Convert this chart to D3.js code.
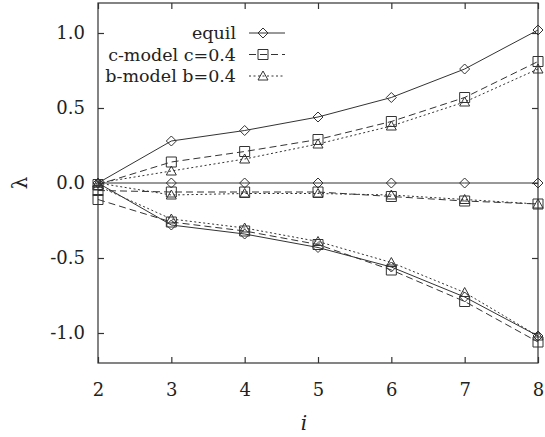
<!DOCTYPE html>
<html>
<head>
<meta charset="utf-8">
<script src="https://cdn.jsdelivr.net/npm/d3@7"></script>
<style>
  body { margin: 0; background: #fff; }
</style>
</head>
<body>
<div id="wrapper"></div>
<script>
// Data
const iValues = [2, 3, 4, 5, 6, 7, 8];
const xTicks = [2, 3, 4, 5, 6, 7, 8];
const yTicks = [-1.0, -0.5, 0.0, 0.5, 1.0];

const equilUpper = [0.0, 0.28, 0.35, 0.44, 0.57, 0.76, 1.02];
const equilMiddle = [0.0, 0.0, 0.0, 0.0, 0.0, 0.0, 0.0];
const equilLower = [0.0, -0.28, -0.34, -0.43, -0.56, -0.76, -1.02];

const cUpper = [-0.01, 0.14, 0.21, 0.29, 0.41, 0.57, 0.81];
const cMiddle = [-0.05, -0.06, -0.06, -0.06, -0.09, -0.12, -0.14];
const cLower = [-0.11, -0.26, -0.32, -0.41, -0.58, -0.79, -1.06];

const bUpper = [0.0, 0.08, 0.16, 0.26, 0.38, 0.54, 0.76];
const bMiddle = [0.0, -0.08, -0.07, -0.07, -0.08, -0.11, -0.14];
const bLower = [-0.02, -0.24, -0.30, -0.39, -0.53, -0.73, -1.02];

const seriesNames = ["equil", "c-model c=0.4", "b-model b=0.4"];

const series = [
  { name: seriesNames[0], branches: [equilUpper, equilMiddle, equilLower], dash: null, marker: "diamond" },
  { name: seriesNames[1], branches: [cUpper, cMiddle, cLower], dash: "7,4", marker: "square" },
  { name: seriesNames[2], branches: [bUpper, bMiddle, bLower], dash: "2,2.5", marker: "triangle" },
];

// Dimensions
const dimensions = {
  width: 545,
  height: 437,
  margins: { top: 3, right: 7, bottom: 74, left: 98 },
};
dimensions.boundedWidth = dimensions.width - dimensions.margins.left - dimensions.margins.right;
dimensions.boundedHeight = dimensions.height - dimensions.margins.top - dimensions.margins.bottom;

const serif = "DejaVu Serif";

const wrapper = d3.select("#wrapper").append("svg")
  .attr("width", dimensions.width)
  .attr("height", dimensions.height);

const bounds = wrapper.append("g")
  .attr("transform", `translate(${dimensions.margins.left},${dimensions.margins.top})`);

// Scales
const xScale = d3.scaleLinear().domain([2, 8]).range([0, dimensions.boundedWidth]);
const yScale = d3.scaleLinear().domain([-1.2, 1.2]).range([dimensions.boundedHeight, 0]);

const ink = "#333";

// Frame
bounds.append("rect")
  .attr("width", dimensions.boundedWidth)
  .attr("height", dimensions.boundedHeight)
  .attr("fill", "none")
  .attr("stroke", ink)
  .attr("stroke-width", 1.2);

// Axes (ticks pointing inward, mirrored)
const tickLen = 6;
const xAxis = bounds.append("g")
  .attr("transform", `translate(0,${dimensions.boundedHeight})`)
  .call(d3.axisBottom(xScale).tickValues(xTicks).tickSize(-tickLen).tickPadding(20).tickFormat((d) => d.toFixed(0)));
const xAxisTop = bounds.append("g")
  .call(d3.axisTop(xScale).tickValues(xTicks).tickSize(-tickLen).tickFormat(""));
const yAxis = bounds.append("g")
  .call(d3.axisLeft(yScale).tickValues(yTicks).tickSize(-tickLen).tickPadding(13).tickFormat((d) => d.toFixed(1)));
const yAxisRight = bounds.append("g")
  .attr("transform", `translate(${dimensions.boundedWidth},0)`)
  .call(d3.axisRight(yScale).tickValues(yTicks).tickSize(-tickLen).tickFormat(""));

[xAxis, xAxisTop, yAxis, yAxisRight].forEach((ax) => {
  ax.attr("font-family", serif).attr("font-size", 18);
  ax.select(".domain").remove();
  ax.selectAll(".tick line").attr("stroke", ink).attr("stroke-width", 1.2);
  ax.selectAll(".tick text").attr("fill", "#222");
});

// Axis labels
wrapper.append("text")
  .attr("x", dimensions.margins.left + dimensions.boundedWidth / 2 - 14)
  .attr("y", 430)
  .attr("text-anchor", "middle")
  .attr("fill", "#222")
  .attr("font-family", serif)
  .attr("font-size", 20)
  .attr("font-style", "italic")
  .text("i");

wrapper.append("text")
  .attr("transform", `translate(27,${dimensions.margins.top + yScale(0)}) rotate(-90)`)
  .attr("text-anchor", "middle")
  .attr("fill", "#222")
  .attr("font-family", serif)
  .attr("font-size", 20)
  .text("λ");

// Markers
const markerSize = 5;
function drawMarker(sel, type, cx, cy) {
  const s = markerSize;
  let d;
  if (type === "diamond") {
    d = `M${cx},${cy - s}L${cx + s},${cy}L${cx},${cy + s}L${cx - s},${cy}Z`;
  } else if (type === "square") {
    d = `M${cx - s},${cy - s}H${cx + s}V${cy + s}H${cx - s}Z`;
  } else {
    d = `M${cx},${cy - s}L${cx + s},${cy + s * 0.8}L${cx - s},${cy + s * 0.8}Z`;
  }
  sel.append("path")
    .attr("d", d)
    .attr("fill", "none")
    .attr("stroke", ink)
    .attr("stroke-width", 1);
}

// Lines
const lineGenerator = d3.line()
  .x((d, i) => xScale(iValues[i]))
  .y((d) => yScale(d));

const linesGroup = bounds.append("g");
series.forEach((s) => {
  s.branches.forEach((branch) => {
    linesGroup.append("path")
      .attr("d", lineGenerator(branch))
      .attr("fill", "none")
      .attr("stroke", ink)
      .attr("stroke-width", 1)
      .attr("stroke-dasharray", s.dash);
    branch.forEach((v, i) => drawMarker(linesGroup, s.marker, xScale(iValues[i]), yScale(v)));
  });
});

// Legend
const legend = wrapper.append("g");
series.forEach((s, k) => {
  const y = 33 + k * 21.5;
  legend.append("text")
    .attr("x", 236)
    .attr("y", y + 6)
    .attr("text-anchor", "end")
    .attr("fill", "#222")
    .attr("font-family", serif)
    .attr("font-size", 17.5)
    .text(s.name);
  legend.append("line")
    .attr("x1", 249).attr("x2", 285)
    .attr("y1", y).attr("y2", y)
    .attr("stroke", ink)
    .attr("stroke-width", 1)
    .attr("stroke-dasharray", s.dash);
  drawMarker(legend, s.marker, 263, y);
});
</script>
</body>
</html>
